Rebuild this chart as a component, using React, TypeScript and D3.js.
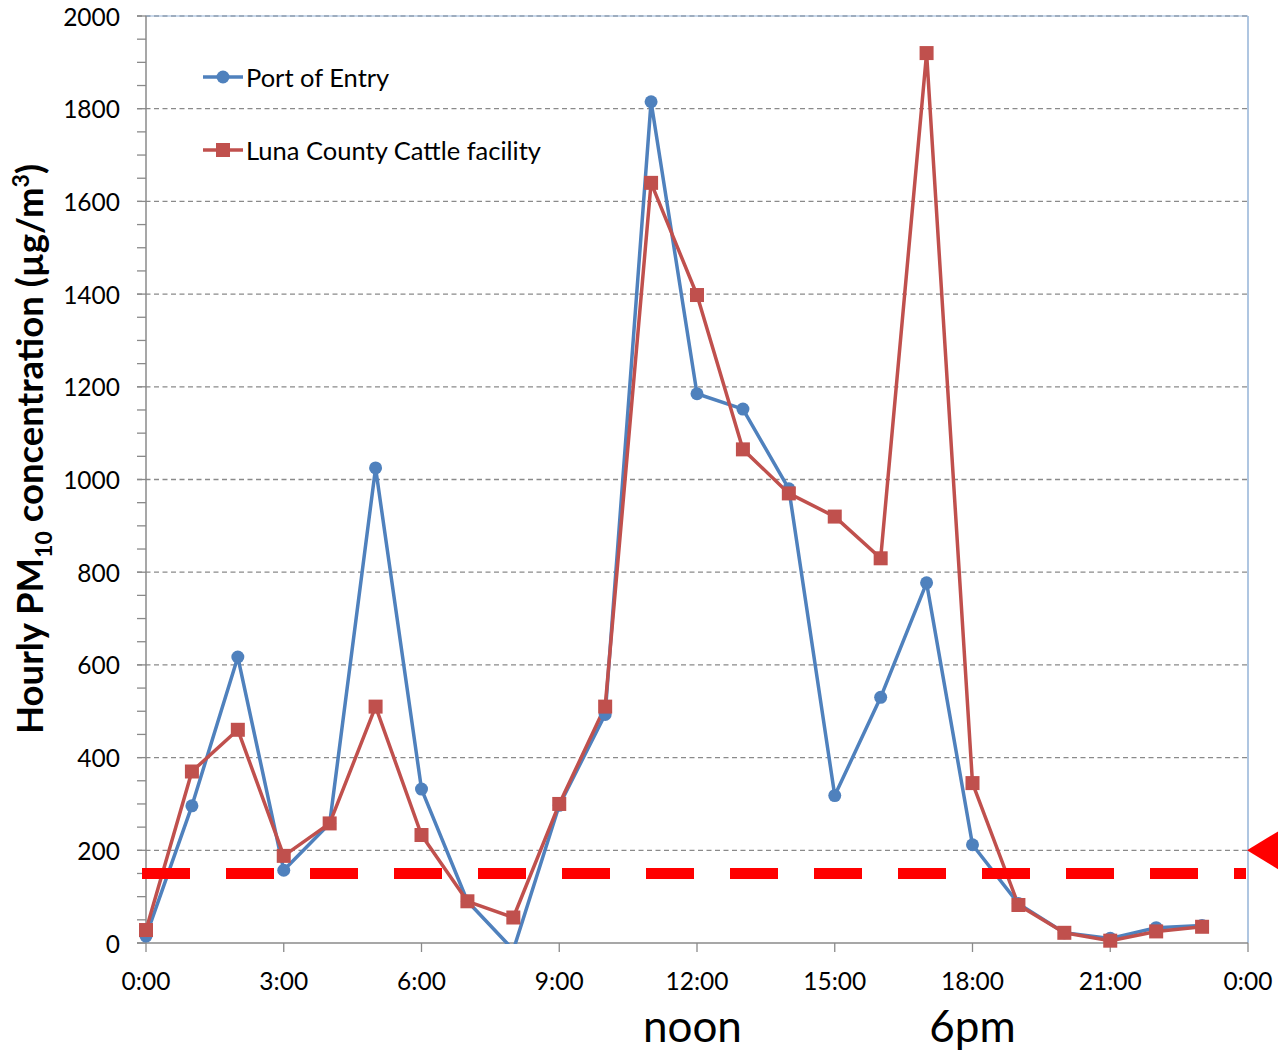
import React from "react";
import * as d3 from "d3";

const hours = d3.range(0, 24);
const portOfEntry = [15, 296, 617, 157, 258, 1025, 332, 90, -15, 297, 493, 1815, 1185, 1152, 980, 318, 530, 777, 212, 85, 22, 10, 33, 38];
const lunaCounty = [28, 370, 460, 188, 258, 510, 233, 90, 55, 300, 510, 1640, 1398, 1065, 970, 920, 830, 1920, 345, 82, 22, 5, 25, 35];
const yTicks = [0, 200, 400, 600, 800, 1000, 1200, 1400, 1600, 1800, 2000];
const yMinorTicks = d3.range(0, 2001, 50);
const xTicks = [0, 3, 6, 9, 12, 15, 18, 21, 24];
const xTickLabels = ["0:00", "3:00", "6:00", "9:00", "12:00", "15:00", "18:00", "21:00", "0:00"];
const threshold = 150;
const arrowLevel = 200;
const annotations = [
  { hour: 11.9, text: "noon" },
  { hour: 18, text: "6pm" },
];
const seriesNames = ["Port of Entry", "Luna County Cattle facility"];

const W = 1278;
const H = 1053;
const L = 146, R = 1248, T = 16, B = 943;
const BLUE = "#4F81BD";
const RED = "#C0504D";
const FONT = "Lato, 'Open Sans', sans-serif";

export default function App() {
  const x = d3.scaleLinear().domain([0, 24]).range([L, R]);
  const y = d3.scaleLinear().domain([0, 2000]).range([B, T]);
  const line = d3.line<number>().x((_, i) => x(hours[i])).y((d) => y(d));

  return (
    <svg width={W} height={H} style={{ position: "absolute", left: 0, top: 0, background: "#fff" }}>
      <defs>
        <clipPath id="plotclip">
          <rect x={0} y={0} width={W} height={B + 1} />
        </clipPath>
      </defs>
      {yTicks.filter((t) => t > 0).map((t) => (
        <line key={"g" + t} x1={137} x2={R} y1={y(t)} y2={y(t)} stroke="#8a8a8a" strokeWidth={1.3} strokeDasharray="5,3.5" />
      ))}
      <line x1={L} x2={R} y1={T} y2={T} stroke="#95B3D7" strokeWidth={1.2} />
      <line x1={R} x2={R} y1={T} y2={B} stroke="#95B3D7" strokeWidth={1.5} />
      {yMinorTicks.map((t) => (
        <line key={"m" + t} x1={137} x2={L} y1={y(t)} y2={y(t)} stroke="#8a8a8a" strokeWidth={1.3} />
      ))}
      <line x1={L} x2={L} y1={T} y2={B} stroke="#8a8a8a" strokeWidth={1.5} />
      <line x1={137} x2={R} y1={B} y2={B} stroke="#8a8a8a" strokeWidth={1.5} />
      {xTicks.map((t) => (
        <line key={"xt" + t} x1={x(t)} x2={x(t)} y1={B} y2={B + 9} stroke="#8a8a8a" strokeWidth={1.3} />
      ))}
      {yTicks.map((t) => (
        <text key={"yl" + t} x={120} y={y(t)} textAnchor="end" dominantBaseline="central" fontFamily={FONT} fontSize={24.5} fill="#000">
          {t}
        </text>
      ))}
      {xTicks.map((t, i) => (
        <text key={"xl" + i} x={x(t)} y={980} textAnchor="middle" dominantBaseline="central" fontFamily={FONT} fontSize={24.5} fill="#000">
          {xTickLabels[i]}
        </text>
      ))}
      <text
        transform={`translate(43,449) rotate(-90)`}
        textAnchor="middle"
        fontFamily={FONT}
        fontSize={36.5}
        fontWeight="bold"
        fill="#000"
      >
        Hourly PM<tspan fontSize={23} dy={9}>10</tspan>
        <tspan dy={-9}> concentration (µg/m</tspan>
        <tspan fontSize={23} dy={-14}>3</tspan>
        <tspan dy={14}>)</tspan>
      </text>
      <g clipPath="url(#plotclip)">
        <path d={line(portOfEntry) || ""} fill="none" stroke={BLUE} strokeWidth={3.5} strokeLinejoin="round" />
        <path d={line(lunaCounty) || ""} fill="none" stroke={RED} strokeWidth={3.5} strokeLinejoin="round" />
      </g>
      {portOfEntry.map((v, i) =>
        v >= 0 ? <circle key={"pc" + i} cx={x(hours[i])} cy={y(v)} r={6.5} fill={BLUE} /> : null
      )}
      {lunaCounty.map((v, i) => (
        <rect key={"lr" + i} x={x(hours[i]) - 7} y={y(v) - 7} width={14} height={14} fill={RED} />
      ))}
      <line x1={142} x2={1246} y1={y(threshold)} y2={y(threshold)} stroke="#FF0000" strokeWidth={11} strokeDasharray="48,36" />
      <polygon
        points={`${R - 1},${y(arrowLevel)} ${R + 45},${y(arrowLevel) - 28} ${R + 45},${y(arrowLevel) + 28}`}
        fill="#FF0000"
      />
      {[0, 1].map((i) => {
        const ly = i === 0 ? 77 : 150;
        return (
          <g key={"lg" + i}>
            <line x1={203} x2={243} y1={ly} y2={ly} stroke={i === 0 ? BLUE : RED} strokeWidth={3.5} />
            {i === 0 ? (
              <circle cx={223} cy={ly} r={6.5} fill={BLUE} />
            ) : (
              <rect x={216} y={ly - 7} width={14} height={14} fill={RED} />
            )}
            <text x={246} y={ly} dominantBaseline="central" fontFamily={FONT} fontSize={25.5} fill="#000">
              {seriesNames[i]}
            </text>
          </g>
        );
      })}
      {annotations.map((a) => (
        <text key={a.text} x={x(a.hour)} y={1042} textAnchor="middle" fontFamily={FONT} fontSize={44} fill="#000">
          {a.text}
        </text>
      ))}
    </svg>
  );
}
